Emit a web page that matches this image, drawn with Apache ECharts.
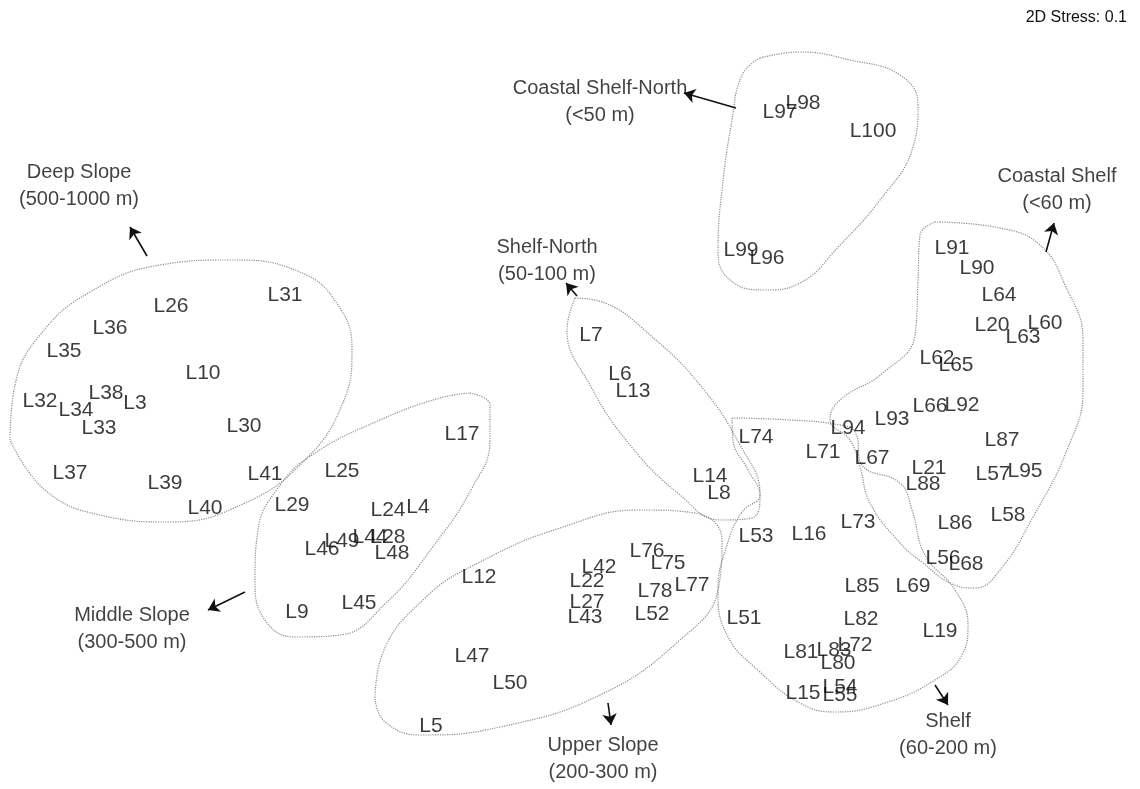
<!DOCTYPE html>
<html>
<head>
<meta charset="utf-8">
<script src="https://cdn.jsdelivr.net/npm/echarts@6/dist/echarts.min.js"></script>
<style>
  html, body { margin: 0; padding: 0; background: #fff; }
  #chart { width: 1140px; height: 789px; }
</style>
</head>
<body>
<div id="chart"></div>
<script>
// MDS ordination, station labels (coordinates, y grows downward)
const sites = ['L31','L26','L36','L35','L10','L38','L32','L34','L3','L33','L30','L37','L39','L41','L40',
  'L17','L25','L29','L24','L4','L46','L49','L44','L28','L48','L9','L45',
  'L12','L76','L75','L42','L22','L78','L77','L27','L43','L52','L47','L50','L5',
  'L7','L6','L13','L14','L8',
  'L74','L94','L71','L67','L53','L16','L73','L85','L69','L51','L82','L19','L81','L83','L72','L80','L15','L54','L55',
  'L91','L90','L64','L20','L60','L63','L62','L65','L66','L92','L93','L87','L21','L88','L57','L95','L58','L86','L56','L68',
  'L97','L98','L100','L99','L96'];
const siteX = [285,171,110,64,203,106,40,76,135,99,244,70,165,265,205,
  462,342,292,388,418,322,342,370,388,392,297,359,
  479,647,668,599,587,655,692,587,585,652,472,510,431,
  591,620,633,710,719,
  756,848,823,872,756,809,858,862,913,744,861,940,801,834,855,838,803,840,840,
  952,977,999,992,1045,1023,937,956,930,962,892,1002,929,923,993,1025,1008,955,943,966,
  780,803,873,741,767];
const siteY = [295,306,328,351,373,393,401,410,403,428,426,473,483,474,508,
  434,471,505,510,507,549,541,537,537,553,612,603,
  577,551,563,567,581,591,585,602,617,614,656,683,726,
  335,374,391,476,493,
  437,428,452,458,536,534,522,586,586,618,619,631,652,650,645,663,693,687,695,
  248,268,295,325,323,337,358,365,406,405,419,440,468,484,474,471,515,523,558,564,
  112,103,131,250,258];

// depth group annotations
const groupNames = ['Deep Slope\n(500-1000 m)','Middle Slope\n(300-500 m)','Upper Slope\n(200-300 m)',
  'Shelf-North\n(50-100 m)','Coastal Shelf-North\n(<50 m)','Coastal Shelf\n(<60 m)','Shelf\n(60-200 m)'];
const groupX = [79,132,603,547,600,1057,948];
const groupY = [186,629,759,261,102,190,735];

// arrows pointing from each cluster to its label: [x1, y1, x2, y2]
const arrows = [
  [147,256,130,227],
  [245,592,208,610],
  [608,703,611,725],
  [577,296,566,283],
  [736,108,684,93],
  [1046,252,1054,223],
  [935,685,948,705]
];

// cluster outlines
const hullDeep = [[10,440],[15,385],[40,335],[90,292],[160,265],[230,260],[300,272],[338,305],[352,350],[342,405],[305,460],[245,503],[170,522],[100,515],[45,490]];
const hullMiddle = [[470,393],[490,405],[490,440],[472,488],[432,548],[386,603],[340,635],[295,637],[265,620],[255,580],[258,530],[278,488],[312,455],[380,420],[440,398]];
const hullUpper = [[375,700],[382,655],[425,598],[480,562],[560,528],[640,510],[695,513],[722,540],[718,590],[680,640],[600,695],[500,727],[420,735],[385,722]];
const hullShelfNorth = [[575,298],[605,303],[650,335],[700,385],[740,445],[760,495],[752,518],[720,520],[680,495],[630,445],[590,385],[567,330]];
const hullShelf = [[732,418],[790,420],[840,425],[855,432],[862,465],[900,483],[912,510],[925,555],[955,590],[968,625],[962,655],[935,680],[885,703],[835,712],[800,703],[760,672],[727,635],[718,590],[727,545],[742,512],[760,495],[748,470],[733,440]];
const hullCoastal = [[935,222],[1000,228],[1040,245],[1065,285],[1083,340],[1083,390],[1067,450],[1033,517],[1000,570],[975,588],[950,583],[923,563],[900,543],[870,503],[860,467],[850,440],[830,420],[840,400],[883,373],[915,335],[918,280],[920,235]];
const hullCoastalNorth = [[760,58],[800,52],[850,60],[900,75],[918,105],[912,150],[880,200],[840,245],[800,283],[765,290],[730,280],[718,250],[722,190],[732,120],[742,75]];

const hulls = [hullDeep, hullMiddle, hullUpper, hullShelfNorth, hullShelf, hullCoastal, hullCoastalNorth];

const font = "'Liberation Sans', Arial, sans-serif";

var myChart = echarts.init(document.getElementById('chart'));

var series = hulls.map(function (h) {
  return {
    type: 'line',
    data: h.concat([h[0]]),
    smooth: 0.45,
    symbol: 'none',
    silent: true,
    lineStyle: { color: '#8c8c8c', width: 1.2, type: 'dotted' },
    z: 1
  };
});

series.push({
  type: 'lines',
  coordinateSystem: 'cartesian2d',
  silent: true,
  symbol: ['none', 'arrow'],
  symbolSize: 11,
  lineStyle: { color: '#111', width: 1.6, opacity: 1 },
  data: arrows.map(function (a) { return { coords: [[a[0], a[1]], [a[2], a[3]]] }; }),
  z: 2
});

series.push({
  type: 'scatter',
  symbolSize: 1,
  itemStyle: { color: 'transparent' },
  silent: true,
  data: sites.map(function (s, i) { return { name: s, value: [siteX[i], siteY[i]] }; }),
  label: {
    show: true,
    position: 'inside',
    formatter: '{b}',
    color: '#0a0a0a',
    fontSize: 21,
    fontFamily: font
  },
  z: 3
});

series.push({
  type: 'scatter',
  symbolSize: 1,
  itemStyle: { color: 'transparent' },
  silent: true,
  data: groupNames.map(function (g, i) { return { name: g, value: [groupX[i], groupY[i]] }; }),
  label: {
    show: true,
    position: 'inside',
    formatter: '{b}',
    color: '#111',
    fontSize: 20,
    lineHeight: 27,
    align: 'center',
    fontFamily: font
  },
  z: 3
});

var option = {
  animation: false,
  title: {
    text: '2D Stress: 0.1',
    right: 8,
    top: 5,
    textStyle: { fontSize: 16, fontWeight: 'normal', color: '#111', fontFamily: font }
  },
  grid: { left: 0, right: 0, top: 0, bottom: 0 },
  xAxis: { type: 'value', min: 0, max: 1140, show: false },
  yAxis: { type: 'value', min: 0, max: 789, inverse: true, show: false },
  series: series
};

myChart.setOption(option);
</script>
</body>
</html>
